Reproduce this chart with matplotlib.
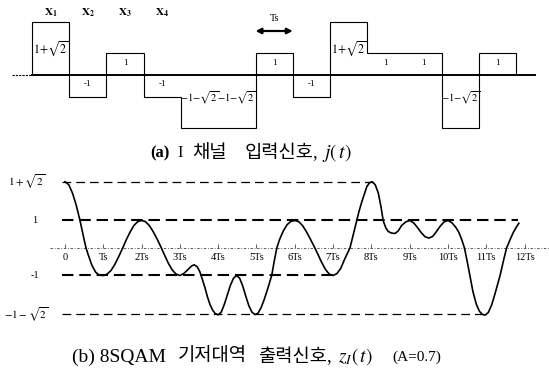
import numpy as np
import matplotlib
matplotlib.use("Agg")
import matplotlib.pyplot as plt

plt.rcParams['mathtext.fontset'] = 'stix'
plt.rcParams['font.family'] = ['Liberation Serif', 'Noto Sans CJK KR']

# ---------------- data ----------------
# (a) input symbols of the I channel
symbols = [2.414, -1, 1, -1, -2.414, -2.414, 1, -1, 2.414, 1, 1, -2.414, 1]
symbol_labels = [r'$1\!+\!\sqrt{2}$', '-1', '1', '-1', r'$-1\!-\!\sqrt{2}$', r'$-1\!-\!\sqrt{2}$',
                 '1', '-1', r'$1\!+\!\sqrt{2}$', '1', '1', r'$-1\!-\!\sqrt{2}$', '1']
x_names = [r'$\mathbf{X}_{\mathbf{1}}$', r'$\mathbf{X}_{\mathbf{2}}$',
           r'$\mathbf{X}_{\mathbf{3}}$', r'$\mathbf{X}_{\mathbf{4}}$']

# (b) baseband output (t in Ts, value)
curve_t = [0, 0.1, 0.2, 0.3, 0.4, 0.5, 0.55, 0.6, 0.7, 0.8, 0.9, 1.0,
           1.1, 1.2, 1.3, 1.4, 1.5, 1.6, 1.7, 1.8, 1.9, 2.0,
           2.1, 2.2, 2.3, 2.4, 2.5, 2.6, 2.7, 2.8, 2.9, 3.0,
           3.1, 3.2, 3.3, 3.37, 3.45, 3.52, 3.6, 3.66, 3.72, 3.79, 3.86, 3.92, 4.0,
           4.08, 4.16, 4.24, 4.32, 4.4, 4.48, 4.56, 4.64, 4.72, 4.8, 4.88, 4.96,
           5.04, 5.12, 5.2, 5.3, 5.4, 5.46, 5.53, 5.6, 5.7, 5.8, 5.9, 6.0,
           6.1, 6.2, 6.3, 6.4, 6.5, 6.6, 6.7, 6.8, 6.9, 7.0,
           7.1, 7.2, 7.31, 7.44, 7.52, 7.61, 7.68, 7.75, 7.82, 7.88, 7.95, 8.02,
           8.1, 8.18, 8.25, 8.31, 8.38, 8.44, 8.53, 8.62, 8.7, 8.79, 8.9, 9.0,
           9.1, 9.2, 9.3, 9.4, 9.5, 9.6, 9.7, 9.8, 9.9, 10.0,
           10.1, 10.2, 10.28, 10.36, 10.43, 10.5, 10.57, 10.65, 10.74, 10.82, 10.9, 10.97,
           11.05, 11.14, 11.22, 11.3, 11.36, 11.45, 11.53, 11.62, 11.7, 11.78, 11.85]
curve_v = [2.41, 2.3, 1.98, 1.52, 0.95, 0.3, 0.0, -0.22, -0.62, -0.88, -0.99, -1.0,
           -0.95, -0.82, -0.6, -0.32, -0.02, 0.3, 0.58, 0.82, 0.96, 1.0,
           0.96, 0.82, 0.6, 0.34, 0.05, -0.26, -0.56, -0.8, -0.95, -1.0,
           -0.93, -0.8, -0.66, -0.61, -0.68, -0.86, -1.2, -1.47, -1.78, -2.07, -2.27, -2.38, -2.43,
           -2.33, -2.05, -1.7, -1.35, -1.1, -1.0, -1.1, -1.38, -1.75, -2.1, -2.33, -2.42,
           -2.37, -2.17, -1.88, -1.45, -0.98, -0.5, 0.0, 0.3, 0.62, 0.85, 0.97, 1.0,
           0.96, 0.82, 0.6, 0.34, 0.07, -0.22, -0.52, -0.78, -0.95, -1.0,
           -0.93, -0.74, -0.38, 0.0, 0.45, 0.97, 1.35, 1.68, 1.98, 2.23, 2.37, 2.41,
           2.3, 2.0, 1.5, 0.98, 0.72, 0.6, 0.54, 0.53, 0.62, 0.82, 0.95, 1.0,
           0.92, 0.75, 0.56, 0.41, 0.36, 0.42, 0.6, 0.8, 0.95, 1.0,
           0.92, 0.76, 0.58, 0.3, 0.0, -0.48, -1.0, -1.58, -2.05, -2.3, -2.42, -2.44,
           -2.35, -2.07, -1.7, -1.3, -1.0, -0.45, 0.0, 0.3, 0.55, 0.75, 0.9]
time_ticks = list(range(13))
time_labels = ['0', 'Ts', '2Ts', '3Ts', '4Ts', '5Ts', '6Ts', '7Ts', '8Ts', '9Ts', '10Ts', '11Ts', '12Ts']
levels = [2.414, 1, -1, -2.414]
level_labels = [r'$1+\sqrt{2}$', '1', '-1', r'$-1-\sqrt{2}$']
level_ends = [8.17, 11.83, 7.0, 11.0]

W, H = 549, 373
fig = plt.figure(figsize=(W / 100, H / 100), dpi=100)

# ---------------- (a) ----------------
ax1 = fig.add_axes([0, 1 - 140 / H, 1, 140 / H])
ax1.set_xlim(-0.859, 13.879)
ax1.set_ylim(-2.955, 3.409)
ax1.axis('off')
n = len(symbols)
edges = np.arange(n + 1)
ax1.stairs(symbols, edges, baseline=0, color='black', lw=0.8)
ax1.plot([-0.54, 0], [0, 0], color='black', lw=0.8, ls=(0, (2, 1)))
ax1.plot([0, 13.5], [0, 0], color='black', lw=1.4)
for i, (s, lab) in enumerate(zip(symbols, symbol_labels)):
    if s > 2:
        y, fs = 1.2, 8.5
    elif s > 0:
        y, fs = 0.55, 6.5
    elif s > -2:
        y, fs = -0.41, 6.5
    else:
        y, fs = -1.05, 7.5
    ax1.text(i + 0.5, y, lab, ha='center', va='center', fontsize=fs)
for i, nm in enumerate(x_names):
    ax1.text(i + 0.5, 2.85, nm, ha='center', va='center', fontsize=8)
ax1.annotate('', xy=(6, 2.0), xytext=(7, 2.0),
             arrowprops=dict(arrowstyle='<|-|>', color='black', lw=1.6,
                             mutation_scale=8, shrinkA=0, shrinkB=0))
ax1.text(6.5, 2.55, 'Ts', ha='center', va='center', fontsize=7.5)

# ---------------- (b) ----------------
ax2 = fig.add_axes([0, 43 / H, 1, 160 / H])
ax2.set_xlim(-1.697, 12.637)
ax2.set_ylim(-2.982, 2.836)
ax2.axis('off')
for lv, end in zip(levels, level_ends):
    if abs(lv) > 2:
        ax2.plot([-0.08, end], [lv, lv], color='black', lw=0.9, ls=(0, (7, 4)))
    else:
        ax2.plot([-0.08, end], [lv, lv], color='black', lw=1.5, ls=(0, (5.5, 2.8)))
ax2.plot([-0.39, 12.637], [0, 0], color='#444444', lw=0.6, ls=(0, (3, 2, 1, 2)))
ax2.vlines(time_ticks, 0, 0.13, color='#444444', lw=0.6)
for tk, lab in zip(time_ticks, time_labels):
    ax2.text(tk, -0.36, lab, ha='center', va='center', fontsize=7.5)
ax2.plot(curve_t, curve_v, color='black', lw=1.2)
ax2.text(-1.0, levels[0], level_labels[0], ha='center', va='center', fontsize=8)
ax2.text(-0.78, levels[1], level_labels[1], ha='center', va='center', fontsize=7.5)
ax2.text(-0.78, levels[2], level_labels[2], ha='center', va='center', fontsize=7.5)
ax2.text(-1.0, levels[3], level_labels[3], ha='center', va='center', fontsize=8)

# ---------------- captions ----------------
fam = ['Liberation Serif', 'Noto Sans CJK KR']
ya = 1 - 153 / H
yb = 1 - 357 / H
fig.text(150 / W, ya, '(a)', ha='left', va='center', fontsize=12, family=fam, weight='bold')
fig.text(177 / W, ya, 'I', ha='left', va='center', fontsize=12, family=fam)
fig.text(192 / W, ya, '채널', ha='left', va='center', fontsize=13.5, family=fam)
fig.text(245 / W, ya, '입력신호,', ha='left', va='center', fontsize=13.5, family=fam)
fig.text(322 / W, ya, r'$j(\,t)$', ha='left', va='center', fontsize=14)
fig.text(72 / W, yb, '(b) 8SQAM', ha='left', va='center', fontsize=14, family=fam)
fig.text(178 / W, yb, '기저대역', ha='left', va='center', fontsize=13.5, family=fam)
fig.text(258 / W, yb, '출력신호,', ha='left', va='center', fontsize=13.5, family=fam)
fig.text(338 / W, yb, r'$z_I(\,t)$', ha='left', va='center', fontsize=14)
fig.text(392 / W, yb, '(A=0.7)', ha='left', va='center', fontsize=11, family=fam)

fig.savefig('out.png', dpi=100)
